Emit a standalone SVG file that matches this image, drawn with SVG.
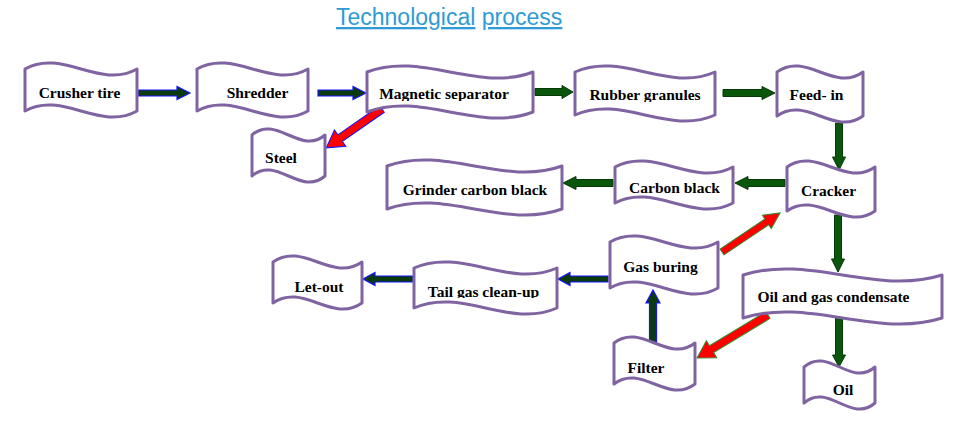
<svg xmlns="http://www.w3.org/2000/svg" width="958" height="424" viewBox="0 0 958 424">
<style>
.n{fill:#fff;stroke:#8064A2;stroke-width:3;stroke-linejoin:round}
.t{font-family:"Liberation Serif","Times New Roman",serif;font-weight:bold;font-size:15.5px;fill:#000;text-anchor:middle}
.title{font-family:"Liberation Sans",Arial,sans-serif;font-size:23px;fill:#2E9BD6}
.ab{fill:#0B3A0B;stroke:#1414FF;stroke-width:1.2}
.ag{fill:#0A560A;stroke:#063A06;stroke-width:1}
.rb{fill:#FF0000;stroke:#1414FF;stroke-width:1}
.rg{fill:#FF0000;stroke:#2E8B2E;stroke-width:1}
</style>
<defs>
<clipPath id="c1"><rect x="360" y="80" width="180" height="21"/></clipPath>
<clipPath id="c2"><rect x="580" y="80" width="130" height="22"/></clipPath>
<clipPath id="c3"><rect x="420" y="280" width="130" height="18"/></clipPath>
</defs>
<text class="title" x="336" y="25"><tspan text-decoration="underline">Technological</tspan> <tspan text-decoration="underline">process</tspan></text>
<g id="connectors">
<polygon class="ab" transform="translate(138,93)" points="0,-3 39,-3 39,-6.5 52,0 39,6.5 39,3 0,3"/>
<polygon class="ab" transform="translate(318,93)" points="0,-3 35,-3 35,-6.5 48,0 35,6.5 35,3 0,3"/>
<polygon class="ag" transform="translate(535,92)" points="0,-3.5 27,-3.5 27,-6.5 38,0 27,6.5 27,3.5 0,3.5"/>
<polygon class="ag" transform="translate(723,93)" points="0,-3.5 39,-3.5 39,-6.5 52,0 39,6.5 39,3.5 0,3.5"/>
<polygon class="ag" transform="translate(839,123) rotate(90)" points="0,-3.5 34,-3.5 34,-6.5 47,0 34,6.5 34,3.5 0,3.5"/>
<polygon class="ag" transform="translate(785,183) rotate(180)" points="0,-3.5 37,-3.5 37,-6.5 50,0 37,6.5 37,3.5 0,3.5"/>
<polygon class="ag" transform="translate(613,183) rotate(180)" points="0,-3.5 37,-3.5 37,-6.5 50,0 37,6.5 37,3.5 0,3.5"/>
<polygon class="ag" transform="translate(838,215) rotate(90)" points="0,-3.5 44,-3.5 44,-6.5 57,0 44,6.5 44,3.5 0,3.5"/>
<polygon class="ag" transform="translate(839,317) rotate(90)" points="0,-3.5 38,-3.5 38,-6.5 50,0 38,6.5 38,3.5 0,3.5"/>
<polygon class="ab" transform="translate(608,279) rotate(180)" points="0,-3 38,-3 38,-6.5 50,0 38,6.5 38,3 0,3"/>
<polygon class="ab" transform="translate(413,279) rotate(180)" points="0,-3 38,-3 38,-6.5 50,0 38,6.5 38,3 0,3"/>
<polygon class="ab" transform="translate(653,345) rotate(-90)" points="0,-3.5 42,-3.5 42,-7 55,0 42,7 42,3.5 0,3.5"/>
<polygon class="rb" transform="translate(382,109) rotate(145.15)" points="0,-4 51,-4 51,-10 68,0 51,10 51,4 0,4"/>
<polygon class="rg" transform="translate(722,252) rotate(-33.9)" points="0,-3.5 54,-3.5 54,-8 70,0 54,8 54,3.5 0,3.5"/>
<polygon class="rg" transform="translate(768,315) rotate(148.8)" points="0,-4 66,-4 66,-10 83,0 66,10 66,4 0,4"/>
</g>
<g id="crusher-tire"><path class="n" d="M25,69 C62,48 100,90 137,69 L137,111 C100,132 62,90 25,111 Z"/><text class="t" x="79.5" y="98">Crusher tire</text></g>
<g id="shredder"><path class="n" d="M197,69 C234,48 271,90 308,69 L308,111 C271,132 234,90 197,111 Z"/><text class="t" x="257.5" y="98">Shredder</text></g>
<g id="magnetic-separator"><path class="n" d="M367,72 C422,51 478,93 533,72 L533,112 C478,133 422,91 367,112 Z"/><text class="t" x="444" y="99" clip-path="url(#c1)">Magnetic separator</text></g>
<g id="rubber-granules"><path class="n" d="M575,72 C622,51 668,93 715,72 L715,115 C668,136 622,94 575,115 Z"/><text class="t" x="645" y="100" clip-path="url(#c2)">Rubber granules</text></g>
<g id="feed-in"><path class="n" d="M777,72 C806,51 834,93 863,72 L863,116 C834,137 806,95 777,116 Z"/><text class="t" x="816.5" y="100">Feed- in</text></g>
<g id="steel"><path class="n" d="M252,135 C276,114 301,156 325,135 L325,176 C301,197 276,155 252,176 Z"/><text class="t" x="281" y="163">Steel</text></g>
<g id="grinder-carbon-black"><path class="n" d="M387,166 C445,145 504,187 562,166 L562,209 C504,230 445,188 387,209 Z"/><text class="t" x="475" y="195">Grinder carbon black</text></g>
<g id="carbon-black"><path class="n" d="M615,167 C654,146 694,188 733,167 L733,203 C694,224 654,182 615,203 Z"/><text class="t" x="674.5" y="193">Carbon black</text></g>
<g id="cracker"><path class="n" d="M787,167 C816,146 846,188 875,167 L875,211 C846,232 816,190 787,211 Z"/><text class="t" x="828.5" y="196">Cracker</text></g>
<g id="gas-buring"><path class="n" d="M610,242 C646,221 682,263 718,242 L718,288 C682,309 646,267 610,288 Z"/><text class="t" x="660.5" y="272">Gas buring</text></g>
<g id="tail-gas-clean-up"><path class="n" d="M414,268 C462,247 509,289 557,268 L557,308 C509,329 462,287 414,308 Z"/><text class="t" x="483.5" y="297" clip-path="url(#c3)">Tail gas clean-up</text></g>
<g id="let-out"><path class="n" d="M273,262 C303,241 332,283 362,262 L362,303 C332,324 303,282 273,303 Z"/><text class="t" x="319" y="292">Let-out</text></g>
<g id="filter"><path class="n" d="M614,343 C641,322 668,364 695,343 L695,384 C668,405 641,363 614,384 Z"/><text class="t" x="646" y="373">Filter</text></g>
<g id="oil-and-gas-condensate"><path class="n" d="M743,275 C809,254 876,296 942,275 L942,318 C876,339 809,297 743,318 Z"/><text class="t" x="833.5" y="302">Oil and gas condensate</text></g>
<g id="oil"><path class="n" d="M804,367 C828,346 851,388 875,367 L875,403 C851,424 828,382 804,403 Z"/><text class="t" x="843" y="395">Oil</text></g>
</svg>
